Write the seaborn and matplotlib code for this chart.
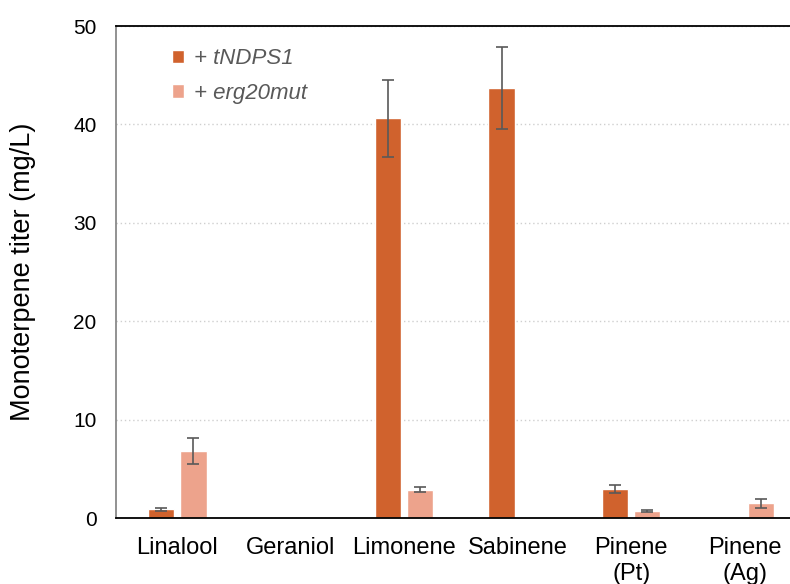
import matplotlib
matplotlib.use("Agg")
import matplotlib.pyplot as plt
import seaborn as sns
import pandas as pd
import numpy as np

categories = ["Linalool", "Geraniol", "Limonene", "Sabinene", "Pinene\n(Pt)", "Pinene\n(Ag)"]
tndps1 = [0.9, 0.0, 40.6, 43.7, 2.95, 0.0]
tndps1_err = [0.15, 0.0, 3.9, 4.2, 0.45, 0.0]
erg20mut = [6.8, 0.0, 2.85, 0.0, 0.7, 1.5]
erg20mut_err = [1.35, 0.0, 0.25, 0.0, 0.08, 0.45]
series = ["+ tNDPS1", "+ erg20mut"]

sns.set_theme(style="white")
plt.rcParams["font.family"] = ["Liberation Sans", "DejaVu Sans"]

df = pd.DataFrame({
    "cat": categories * 2,
    "series": [series[0]] * 6 + [series[1]] * 6,
    "val": tndps1 + erg20mut,
})
errs = tndps1_err + erg20mut_err

fig = plt.figure(figsize=(7.9, 5.84), dpi=100)
ax = fig.add_axes([116 / 790, 66 / 584, 674 / 790, 492 / 584])
colors = ["#D0622D", "#EDA38C"]
sns.barplot(data=df, x="cat", y="val", hue="series", palette=colors,
            errorbar=None, width=0.57, gap=0.19, ax=ax, saturation=1)

patches = list(ax.patches)[:12]
for p, e in zip(patches, errs):
    if p.get_height() > 0:
        xc = p.get_x() + p.get_width() / 2
        ax.errorbar(xc, p.get_height(), yerr=e, fmt="none", ecolor="#595959",
                    elinewidth=1.2, capsize=4, capthick=1.2, zorder=3)

ax.set_ylim(0, 50)
ax.set_xlim(-0.54, 5.40)
ax.set_yticks([0, 10, 20, 30, 40, 50])
ax.yaxis.grid(True, linestyle=(0, (1, 2)), color="#CFCFCF", linewidth=1)
ax.set_axisbelow(True)
ax.set_xlabel("")
ax.set_ylabel("Monoterpene titer (mg/L)", fontsize=19.5, color="black", labelpad=27)
ax.tick_params(axis="y", labelsize=15, colors="black", length=0, pad=14)
ax.tick_params(axis="x", labelsize=17, colors="black", length=0, pad=14)
ax.spines["right"].set_visible(False)
ax.spines["top"].set_color("black")
ax.spines["top"].set_linewidth(1.3)
ax.spines["left"].set_color("#7F7F7F")
ax.spines["left"].set_linewidth(1.2)
ax.spines["bottom"].set_color("black")
ax.spines["bottom"].set_linewidth(1.3)

handles, _ = ax.get_legend_handles_labels()
leg = ax.legend(handles, series,
                loc="upper left", bbox_to_anchor=(0.053, 0.995), frameon=False,
                fontsize=16, handlelength=0.55, handleheight=0.55, handletextpad=0.45,
                labelspacing=0.6)
for t in leg.get_texts():
    t.set_color("#595959")
    t.set_fontstyle("italic")

fig.savefig("out.png", dpi=100)
